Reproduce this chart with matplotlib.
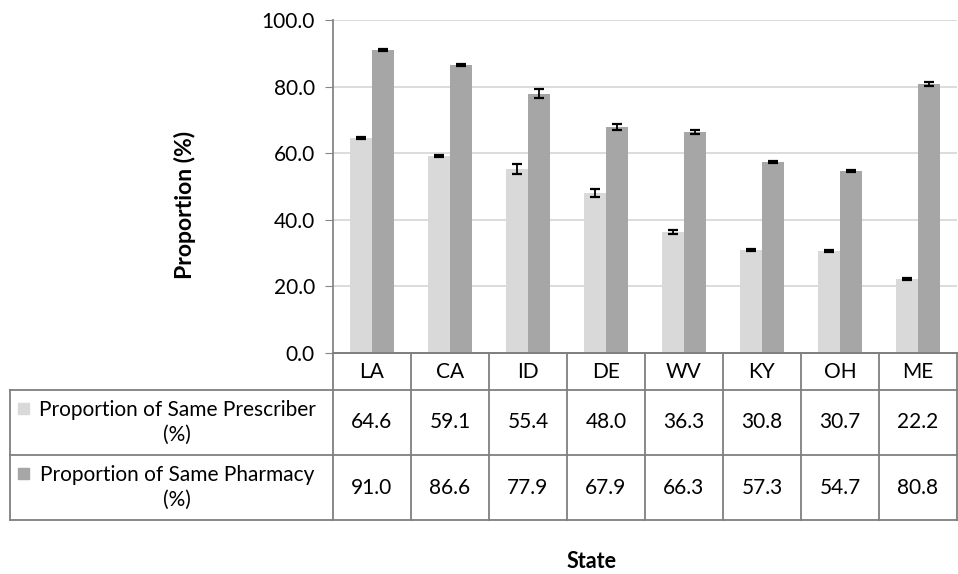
import numpy as np
import matplotlib.pyplot as plt

states = ["LA", "CA", "ID", "DE", "WV", "KY", "OH", "ME"]
prescriber = [64.6, 59.1, 55.4, 48.0, 36.3, 30.8, 30.7, 22.2]
pharmacy = [91.0, 86.6, 77.9, 67.9, 66.3, 57.3, 54.7, 80.8]
prescriber_err = [0.3, 0.3, 1.5, 1.2, 0.6, 0.3, 0.3, 0.3]
pharmacy_err = [0.3, 0.3, 1.3, 1.0, 0.6, 0.3, 0.3, 0.5]
series_names = ["Proportion of Same Prescriber\n(%)", "Proportion of Same Pharmacy\n(%)"]
colors = ["#d9d9d9", "#a6a6a6"]

plt.rcParams['font.family'] = ['Lato', 'DejaVu Sans']

W, H = 958, 574
fig = plt.figure(figsize=(W / 100, H / 100), dpi=100)

def px_axes(x0, y0, x1, y1):
    return fig.add_axes([x0 / W, 1 - y1 / H, (x1 - x0) / W, (y1 - y0) / H])

fs = 15

# chart
ax = px_axes(333, 20, 957, 353)
x = np.arange(len(states))
bw = 0.28
err_kw = dict(ecolor="black", elinewidth=1.3, capsize=3.5, capthick=1.6)
ax.bar(x - bw / 2, prescriber, bw, color=colors[0], yerr=prescriber_err, error_kw=err_kw, zorder=2)
ax.bar(x + bw / 2, pharmacy, bw, color=colors[1], yerr=pharmacy_err, error_kw=err_kw, zorder=2)
ax.set_xlim(-0.5, len(states) - 0.5)
ax.set_ylim(0, 100)
ax.set_yticks(np.arange(0, 101, 20))
ax.set_yticklabels([f"{v:.1f}" for v in np.arange(0, 101, 20)], fontsize=15)
ax.set_xticks([])
ax.yaxis.grid(True, color="#d9d9d9", linewidth=1.3, zorder=0)
ax.set_axisbelow(True)
for s in ["top", "right"]:
    ax.spines[s].set_visible(False)
for s in ["left", "bottom"]:
    ax.spines[s].set_color("#868686")
    ax.spines[s].set_linewidth(1.3)
ax.tick_params(axis="y", length=6, color="#868686", pad=7)
fig.text(185 / W, 1 - 205 / H, "Proportion (%)", rotation=90, ha="center", va="center",
         fontsize=16.5, fontweight="bold")

# data table
tb = px_axes(333, 353, 957, 522)
tb.set_xlim(-0.5, len(states) - 0.5)
tb.set_ylim(169, 0)
tb.axis("off")
lc = "#7f7f7f"
left = (10 - 333) / 78.0 - 0.5
rows = [0, 37, 102, 167]
lk = dict(color=lc, linewidth=1.3, clip_on=False)
for i in range(len(states) + 1):
    tb.plot([i - 0.5, i - 0.5], [rows[0], rows[3]], **lk)
tb.plot([-0.5, len(states) - 0.5], [rows[0], rows[0]], **lk)
for r in rows[1:]:
    tb.plot([left, len(states) - 0.5], [r, r], **lk)
tb.plot([left, left], [rows[1], rows[3]], **lk)

for i, st in enumerate(states):
    tb.text(i, (rows[0] + rows[1]) / 2, st, ha="center", va="center", fontsize=fs)
    tb.text(i, (rows[1] + rows[2]) / 2, f"{prescriber[i]:.1f}", ha="center", va="center", fontsize=fs)
    tb.text(i, (rows[2] + rows[3]) / 2, f"{pharmacy[i]:.1f}", ha="center", va="center", fontsize=fs)

for k, name in enumerate(series_names):
    y0, y1 = rows[k + 1], rows[k + 2]
    tb.text((left + -0.5) / 2 + 0.07, (y0 + y1) / 2, name, ha="center", va="center",
            fontsize=fs, linespacing=1.35, clip_on=False)
    tb.add_patch(plt.Rectangle((left + 0.1, y0 + 13), 0.14, 11, color=colors[k], clip_on=False))

fig.text(592 / W, 1 - 562 / H, "State", ha="center", va="center", fontsize=15.5, fontweight="bold")

fig.savefig("out.png", dpi=100)
